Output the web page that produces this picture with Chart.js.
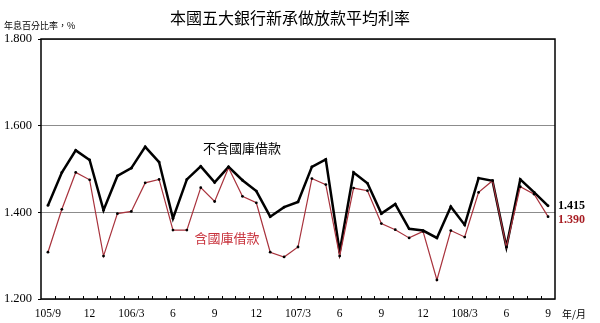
<!DOCTYPE html>
<html>
<head>
<meta charset="utf-8">
<script src="https://cdn.jsdelivr.net/npm/chart.js@4"></script>
<style>
  body { margin: 0; background: #fff; }
  #wrap { width: 600px; height: 323px; }
</style>
</head>
<body>
<div id="wrap"><canvas id="rateChart" width="600" height="323"></canvas></div>
<script>
// 105/9 ~ 108/9 月資料
var months = [
    '105/9', '105/10', '105/11', '105/12', '106/1', '106/2', '106/3', '106/4', '106/5', '106/6',
    '106/7', '106/8', '106/9', '106/10', '106/11', '106/12', '107/1', '107/2', '107/3', '107/4',
    '107/5', '107/6', '107/7', '107/8', '107/9', '107/10', '107/11', '107/12', '108/1', '108/2',
    '108/3', '108/4', '108/5', '108/6', '108/7', '108/8', '108/9'
];
var tickLabels = [
    '105/9', '', '', '12', '', '', '106/3', '', '', '6',
    '', '', '9', '', '', '12', '', '', '107/3', '',
    '', '6', '', '', '9', '', '', '12', '', '',
    '108/3', '', '', '6', '', '', '9'
];
// 不含國庫借款
var exclTreasury = [
    1.416, 1.492, 1.543, 1.521, 1.405, 1.484, 1.502, 1.551, 1.516, 1.386,
    1.476, 1.506, 1.469, 1.505, 1.474, 1.449, 1.390, 1.412, 1.424, 1.505,
    1.522, 1.309, 1.492, 1.467, 1.397, 1.419, 1.362, 1.358, 1.341, 1.413,
    1.371, 1.479, 1.473, 1.320, 1.476, 1.446, 1.415
];
// 含國庫借款
var inclTreasury = [
    1.308, 1.407, 1.492, 1.475, 1.299, 1.397, 1.402, 1.468, 1.476, 1.359,
    1.359, 1.457, 1.425, 1.503, 1.437, 1.422, 1.308, 1.297, 1.320, 1.478,
    1.464, 1.299, 1.456, 1.450, 1.374, 1.360, 1.341, 1.356, 1.244, 1.358,
    1.343, 1.446, 1.473, 1.320, 1.459, 1.442, 1.390
];
var yTicks = [1.2, 1.4, 1.6, 1.8];

var cjk = '"Noto Sans CJK TC", "Noto Sans CJK SC", sans-serif';
var serif = '"Liberation Serif", "DejaVu Serif", serif';

// 框線、刻度、文字
var decorPlugin = {
    id: 'decor',
    afterDraw: function(chart) {
        var ctx = chart.ctx;
        var a = chart.chartArea;
        var x = chart.scales.x;
        var y = chart.scales.y;
        ctx.save();

        // x 軸小刻度 (每月分界)
        var step = x.getPixelForValue(1) - x.getPixelForValue(0);
        ctx.strokeStyle = '#000';
        ctx.lineWidth = 1;
        ctx.beginPath();
        for (var i = 1; i < months.length; i++) {
            var tx = Math.round(x.getPixelForValue(i) - step / 2) + 0.5;
            ctx.moveTo(tx, a.bottom);
            ctx.lineTo(tx, a.bottom - 3);
        }
        ctx.stroke();

        // 外框
        ctx.lineWidth = 1.5;
        ctx.strokeRect(a.left, a.top, a.right - a.left, a.bottom - a.top);

        // 標題
        ctx.fillStyle = '#000';
        ctx.textBaseline = 'middle';
        ctx.textAlign = 'center';
        ctx.font = '16px ' + cjk;
        ctx.fillText('本國五大銀行新承做放款平均利率', 290, 18);

        ctx.textAlign = 'left';
        ctx.font = '9px ' + cjk;
        ctx.fillText('年息百分比率，%', 4, 26);

        ctx.textAlign = 'center';
        ctx.font = '10px ' + cjk;
        ctx.fillText('年/月', 574, 314);

        // 系列文字
        ctx.font = '13px ' + cjk;
        ctx.fillText('不含國庫借款', 242, 148);
        ctx.fillStyle = '#c8323c';
        ctx.fillText('含國庫借款', 227, 238);

        // 最新值
        var last = months.length - 1;
        ctx.textAlign = 'left';
        ctx.font = 'bold 12px ' + serif;
        ctx.fillStyle = '#000';
        ctx.fillText(exclTreasury[last].toFixed(3), 558, y.getPixelForValue(exclTreasury[last]));
        ctx.fillStyle = '#a81e24';
        ctx.fillText(inclTreasury[last].toFixed(3), 558, y.getPixelForValue(inclTreasury[last]) + 3);

        ctx.restore();
    }
};

var chartData = {
    labels: months,
    datasets: [{
        label: '含國庫借款',
        data: inclTreasury,
        borderColor: '#a8323c',
        borderWidth: 1.2,
        pointRadius: 1.4,
        pointBackgroundColor: '#000',
        pointBorderWidth: 0,
        tension: 0
    }, {
        label: '不含國庫借款',
        data: exclTreasury,
        borderColor: '#000',
        borderWidth: 2.5,
        pointRadius: 1.4,
        pointBackgroundColor: '#000',
        pointBorderWidth: 0,
        tension: 0
    }]
};

new Chart(document.getElementById('rateChart').getContext('2d'), {
    type: 'line',
    data: chartData,
    options: {
        responsive: false,
        animation: false,
        layout: { padding: { top: 39, right: 45, left: 0, bottom: 0 } },
        plugins: {
            legend: { display: false },
            tooltip: { enabled: false },
            title: { display: false }
        },
        scales: {
            x: {
                type: 'category',
                offset: true,
                border: { display: false },
                grid: { display: false, drawOnChartArea: false, drawTicks: false },
                ticks: {
                    autoSkip: false,
                    maxRotation: 0,
                    padding: 8,
                    color: '#000',
                    font: { family: serif, size: 11.5 },
                    callback: function(value, index) { return tickLabels[index]; }
                },
                afterFit: function(scale) { scale.height = 24; }
            },
            y: {
                min: yTicks[0],
                max: yTicks[yTicks.length - 1],
                border: { display: false },
                grid: {
                    color: '#8c8c8c',
                    lineWidth: 1,
                    tickColor: '#000',
                    tickLength: 3
                },
                afterBuildTicks: function(scale) {
                    scale.ticks = yTicks.map(function(v) { return { value: v }; });
                },
                ticks: {
                    padding: 6,
                    color: '#000',
                    font: { family: serif, size: 12.5 },
                    callback: function(value) { return Number(value).toFixed(3); }
                },
                afterFit: function(scale) { scale.width = 41; }
            }
        }
    },
    plugins: [decorPlugin]
});
</script>
</body>
</html>
